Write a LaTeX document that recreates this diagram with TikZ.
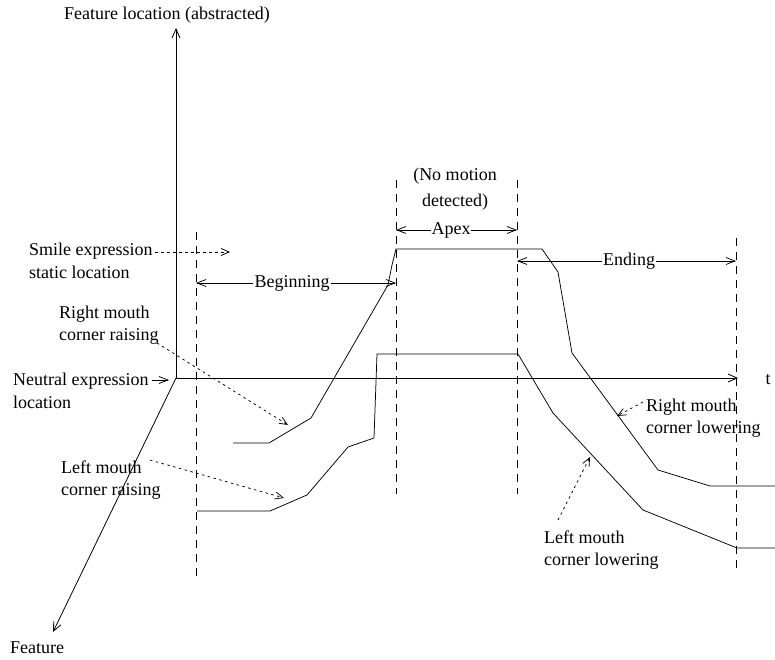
\documentclass[tikz,border=0pt]{standalone}
\usepackage{fontspec}
\setmainfont{Liberation Serif}
\usetikzlibrary{arrows.meta}
\begin{document}
\begin{tikzpicture}[x=1pt,y=-1pt,
  lbl/.style={font=\fontsize{18}{22.5}\selectfont, inner sep=1pt, align=left},
  axis/.style={line width=0.8pt, -{Straight Barb[length=9pt,width=8pt]}},
  curve/.style={line width=0.75pt},
  span/.style={line width=0.75pt, -{Straight Barb[length=9pt,width=7pt]}},
  pointer/.style={line width=0.75pt, dash pattern=on 2.5pt off 3.5pt, -{Straight Barb[length=8pt,width=7pt]}},
  phase/.style={line width=0.75pt, dash pattern=on 8pt off 6pt}]
\useasboundingbox (0,0) rectangle (775,660);

% axes
\coordinate (O) at (176,378);
\coordinate (ytip) at (176,28);
\coordinate (ttip) at (738,378);
\coordinate (ftip) at (53,632);
\draw[axis] (O) -- (ytip);
\draw[axis] (O) -- (ttip);
\draw[axis] (O) -- (ftip);
\node[lbl] (ylab) at (167,15) {Feature location (abstracted)};
\node[lbl] (tlab) at (768,380) {t};
\node[lbl] (flab) at (37,648) {Feature};

% phase boundaries
\coordinate (b1t) at (196,232); \coordinate (b1b) at (196,580);
\coordinate (b2t) at (396,180); \coordinate (b2b) at (396,494);
\coordinate (b3t) at (517,180); \coordinate (b3b) at (517,494);
\coordinate (b4t) at (736,238); \coordinate (b4b) at (736,572);
\draw[phase] (b1t) -- (b1b);
\draw[phase] (b2t) -- (b2b);
\draw[phase] (b3t) -- (b3b);
\draw[phase] (b4t) -- (b4b);

% phase spans
\node[lbl] (beg) at (292,283) {Beginning};
\coordinate (begL) at (196,283); \coordinate (begR) at (396,283);
\draw[span] (beg.west) -- (begL);
\draw[span] (beg.east) -- (begR);
\node[lbl, inner sep=0pt] (apex) at (451,230) {Apex};
\coordinate (apexL) at (396,230); \coordinate (apexR) at (517,230);
\draw[span] (apex.west) -- (apexL);
\draw[span] (apex.east) -- (apexR);
\node[lbl, inner sep=0pt, align=center, font=\fontsize{18}{26}\selectfont] (nomo) at (455,189) {(No motion\\detected)};
\node[lbl] (end) at (629,261) {Ending};
\coordinate (endL) at (517,261); \coordinate (endR) at (736,261);
\draw[span] (end.west) -- (endL);
\draw[span] (end.east) -- (endR);

% mouth corner trajectories
\draw[curve] (233,443) -- (269,443) -- (311,418) -- (388,285) -- (392,265)
  -- (396,249) -- (542,249) -- (558,272) -- (572,353) -- (658,470)
  -- (710,486) -- (775,486);
\draw[curve] (197,511) -- (270,511) -- (307,495) -- (348,447) -- (374,438)
  -- (377,354) -- (518,354) -- (553,413) -- (643,510) -- (737,548)
  -- (775,548);

% annotations
\node[lbl, anchor=west] (smile) at (28,261) {Smile expression\\static location};
\coordinate (smileS) at (155,252); \coordinate (smileE) at (230,252);
\draw[pointer] (smileS) -- (smileE);

\node[lbl, anchor=west] (rraise) at (58,325) {Right mouth\\corner raising};
\coordinate (rraiseS) at (157,343); \coordinate (rraiseE) at (288,425);
\draw[pointer] (rraiseS) -- (rraiseE);

\node[lbl, anchor=west] (neutral) at (12,391) {Neutral expression\\location};
\coordinate (neutralS) at (152,380); \coordinate (neutralE) at (169,380);
\draw[span] (neutralS) -- (neutralE);

\node[lbl, anchor=west] (lraise) at (60,480) {Left mouth\\corner raising};
\coordinate (lraiseS) at (150,460); \coordinate (lraiseE) at (284,498);
\draw[pointer] (lraiseS) -- (lraiseE);

\node[lbl, anchor=west] (rlower) at (645,418) {Right mouth\\corner lowering};
\coordinate (rlowerS) at (643,402); \coordinate (rlowerE) at (617,416);
\draw[pointer] (rlowerS) -- (rlowerE);

\node[lbl, anchor=west] (llower) at (543,550) {Left mouth\\corner lowering};
\coordinate (llowerS) at (558,520); \coordinate (llowerE) at (590,457);
\draw[pointer] (llowerS) -- (llowerE);
\end{tikzpicture}
\end{document}
